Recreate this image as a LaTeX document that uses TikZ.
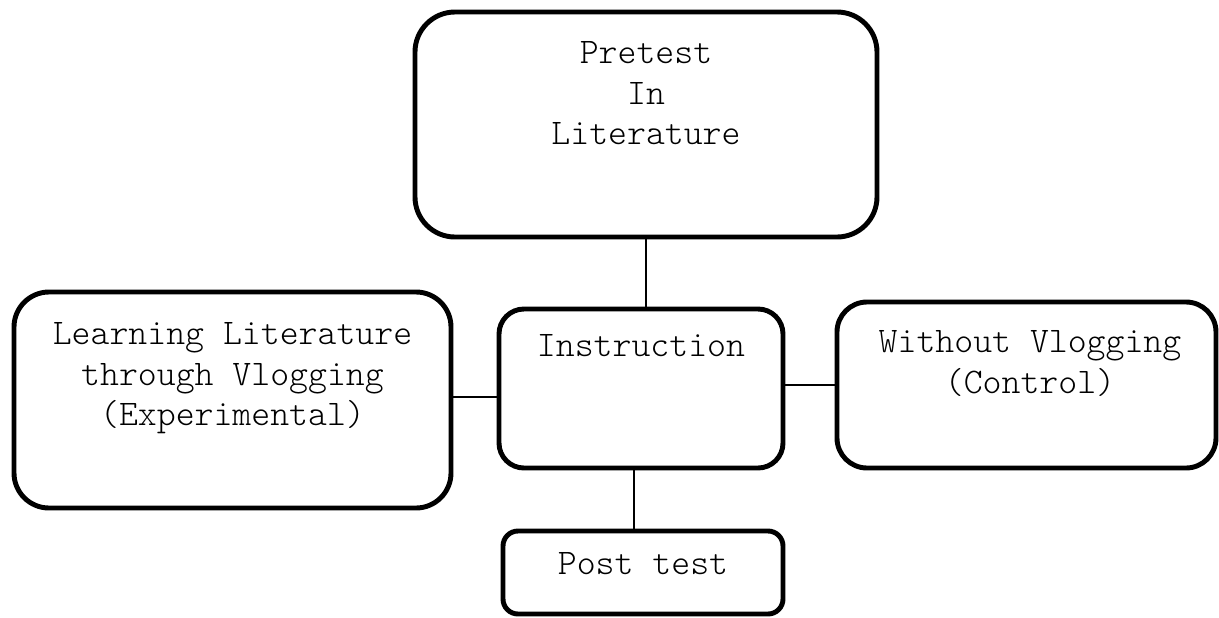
\documentclass[tikz,border=0pt]{standalone}
\usepackage{fontspec}
\setmonofont{Latin Modern Mono Light}
\usetikzlibrary{positioning}

\begin{document}
\begin{tikzpicture}[
    box/.style={draw, line width=2.8pt, rounded corners=#1, inner sep=0pt},
    txt/.style={inner sep=0pt, align=center, font=\ttfamily\fontsize{20.5}{22.9}\selectfont},
    link/.style={line width=1.1pt}
]
\useasboundingbox (0,0) rectangle (24.38,-12.34);

% Boxes
\node (pre) [box=0.8cm, minimum width=9.24cm, minimum height=4.5cm] at (12.92,-2.49) {};
\node (learn) [box=0.7cm, minimum width=8.74cm, minimum height=4.32cm] at (4.65,-8.00) {};
\node (instr) [box=0.5cm, minimum width=5.68cm, minimum height=3.18cm] at (12.82,-7.77) {};
\node (ctrl) [box=0.6cm, minimum width=7.58cm, minimum height=3.32cm] at (20.53,-7.70) {};
\node (post) [box=0.3cm, minimum width=5.6cm, minimum height=1.66cm] at (12.86,-11.45) {};

% Texts
\node (preText) [txt, below=0.64cm of pre.north] {Pretest\\In\\Literature};
\node (learnText) [txt, below=0.66cm of learn.north] {Learning Literature\\through Vlogging\\(Experimental)};
\node (instrText) [txt, below=0.56cm of instr.north] {Instruction};
\node (ctrlText) [txt, below=0.62cm of ctrl.north, xshift=0.07cm] {Without Vlogging\\(Control)};
\node (postText) [txt, below=0.48cm of post.north] {Post test};

% Connectors
\draw[link] (pre.south) -- (pre.south |- instr.north);
\draw[link] ([yshift=0.06cm]learn.east) -- ([yshift=0.06cm]learn.east -| instr.west);
\draw[link] (ctrl.west) -- (ctrl.west -| instr.east);
\draw[link] ([xshift=-0.14cm]instr.south) -- ([xshift=-0.14cm]instr.south |- post.north);

\end{tikzpicture}
\end{document}
